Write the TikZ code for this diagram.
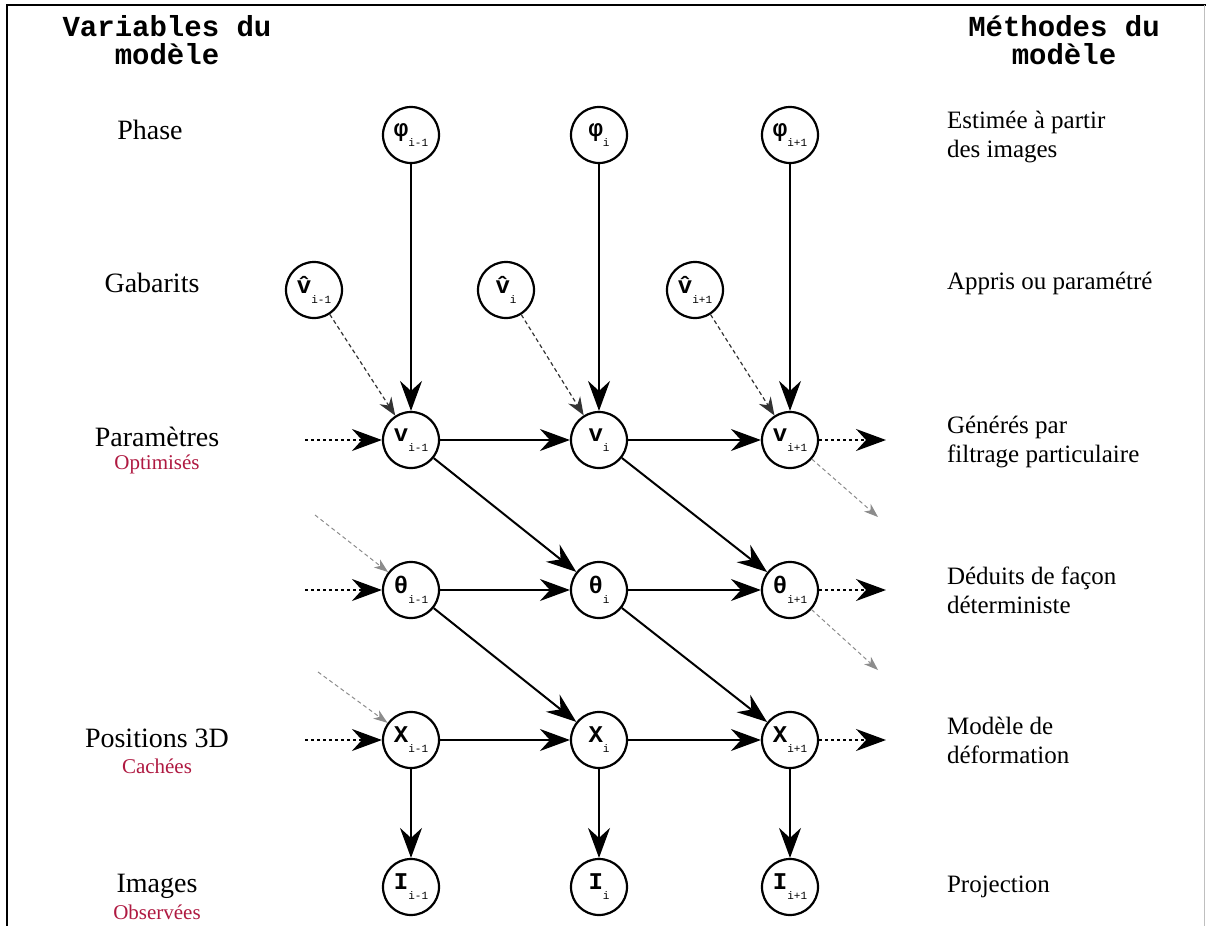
\documentclass[tikz,border=0pt]{standalone}
\usepackage{fontspec}
\setmainfont{Liberation Serif}
\setmonofont{Liberation Mono}
\usetikzlibrary{arrows.meta}
\definecolor{rouge}{RGB}{175,25,65}
\newcommand{\varsub}[2]{#1\raisebox{-0.8ex}{\fontsize{5.5}{6}\selectfont\mdseries #2}}

\begin{document}
\begin{tikzpicture}[x=0.5pt,y=-0.5pt,
    var/.style={circle,draw,line width=1.1pt,minimum size=28pt,inner sep=0pt,
      font=\ttfamily\bfseries\fontsize{12}{12}\selectfont},
    titre/.style={align=center,font=\ttfamily\bfseries\fontsize{14.5}{14}\selectfont},
    gauche/.style={font=\fontsize{14}{14}\selectfont},
    sousgauche/.style={text=rouge,font=\fontsize{10.5}{11}\selectfont},
    droite/.style={anchor=west,align=left,font=\fontsize{12.5}{14.5}\selectfont},
    fleche/.style={-{Stealth[length=15pt,width=11pt,inset=5pt]},line width=1pt},
    pointille/.style={fleche,dash pattern=on 1.5pt off 1.5pt},
    tirets/.style={-{Stealth[length=9pt,width=7pt,inset=3pt]},line width=0.6pt,
      black!80,dash pattern=on 2pt off 1.5pt},
    pale/.style={-{Stealth[length=7pt,width=5pt,inset=2pt]},line width=0.5pt,
      black!45,dash pattern=on 2pt off 1.5pt}]
  \useasboundingbox (0,0) rectangle (1206,926);
  \draw[line width=1pt] (7,926) -- (7,5) -- (1206,5);
  \draw[black!25,line width=0.5pt] (1204,5) -- (1204,926);

  % titres
  \node[titre] (tvar) at (167,40) {Variables du\\modèle};
  \node[titre] (tmeth) at (1064,40) {Méthodes du\\modèle};

  % variables
  \draw
    (411,135) node[var] (phi0) {\varsub{φ}{i-1}}
    (599,135) node[var] (phi1) {\varsub{φ}{i}}
    (790,135) node[var] (phi2) {\varsub{φ}{i+1}}
    (314,290) node[var] (vh0) {\varsub{\^{v}}{i-1}}
    (506,290) node[var] (vh1) {\varsub{\^{v}}{i}}
    (695,290) node[var] (vh2) {\varsub{\^{v}}{i+1}}
    (411,440) node[var] (v0) {\varsub{v}{i-1}}
    (599,440) node[var] (v1) {\varsub{v}{i}}
    (790,440) node[var] (v2) {\varsub{v}{i+1}}
    (411,590) node[var] (th0) {\varsub{θ}{i-1}}
    (599,590) node[var] (th1) {\varsub{θ}{i}}
    (790,590) node[var] (th2) {\varsub{θ}{i+1}}
    (411,740) node[var] (x0) {\varsub{X}{i-1}}
    (599,740) node[var] (x1) {\varsub{X}{i}}
    (790,740) node[var] (x2) {\varsub{X}{i+1}}
    (411,887) node[var] (im0) {\varsub{I}{i-1}}
    (599,887) node[var] (im1) {\varsub{I}{i}}
    (790,887) node[var] (im2) {\varsub{I}{i+1}};

  % bouts libres
  \coordinate (ev) at (305,440);
  \coordinate (eth) at (305,590);
  \coordinate (ex) at (305,740);
  \coordinate (sv) at (886,440);
  \coordinate (sth) at (886,590);
  \coordinate (sx) at (886,740);
  \coordinate (eth2) at (315,515);
  \coordinate (ex2) at (318,672);
  \coordinate (sv2) at (878,517);
  \coordinate (sth2) at (878,670);

  \begin{scope}[fleche]
    \draw (phi0) to (v0);
    \draw (phi1) to (v1);
    \draw (phi2) to (v2);
    \draw (v0) to (v1);
    \draw (v1) to (v2);
    \draw (v0) to (th1);
    \draw (v1) to (th2);
    \draw (th0) to (th1);
    \draw (th1) to (th2);
    \draw (th0) to (x1);
    \draw (th1) to (x2);
    \draw (x0) to (x1);
    \draw (x1) to (x2);
    \draw (x0) to (im0);
    \draw (x1) to (im1);
    \draw (x2) to (im2);
  \end{scope}
  \draw[tirets] (vh0) to (v0);
  \draw[tirets] (vh1) to (v1);
  \draw[tirets] (vh2) to (v2);
  \draw[pointille] (ev) to (v0);
  \draw[pointille] (eth) to (th0);
  \draw[pointille] (ex) to (x0);
  \draw[pointille] (v2) to (sv);
  \draw[pointille] (th2) to (sth);
  \draw[pointille] (x2) to (sx);
  \draw[pale] (eth2) to (th0);
  \draw[pale] (ex2) to (x0);
  \draw[pale] (v2) to (sv2);
  \draw[pale] (th2) to (sth2);

  % colonne de gauche
  \node[gauche] (lphase) at (150,130) {Phase};
  \node[gauche] (lgab) at (152,283) {Gabarits};
  \node[gauche] (lparam) at (157,437) {Paramètres};
  \node[sousgauche] (lopt) at (157,464) {Optimisés};
  \node[gauche] (lpos) at (157,738) {Positions 3D};
  \node[sousgauche] (lcach) at (157,766) {Cachées};
  \node[gauche] (limg) at (157,886) {Images};
  \node[sousgauche] (lobs) at (157,912) {Observées};

  % colonne de droite
  \node[droite] (rphase) at (940,137) {Estimée à partir\\des images};
  \node[droite] (rgab) at (940,283) {Appris ou paramétré};
  \node[droite] (rparam) at (940,442) {Générés par\\filtrage particulaire};
  \node[droite] (rtheta) at (940,590) {Déduits de façon\\déterministe};
  \node[droite] (rpos) at (940,740) {Modèle de\\déformation};
  \node[droite] (rimg) at (940,887) {Projection};
\end{tikzpicture}
\end{document}
